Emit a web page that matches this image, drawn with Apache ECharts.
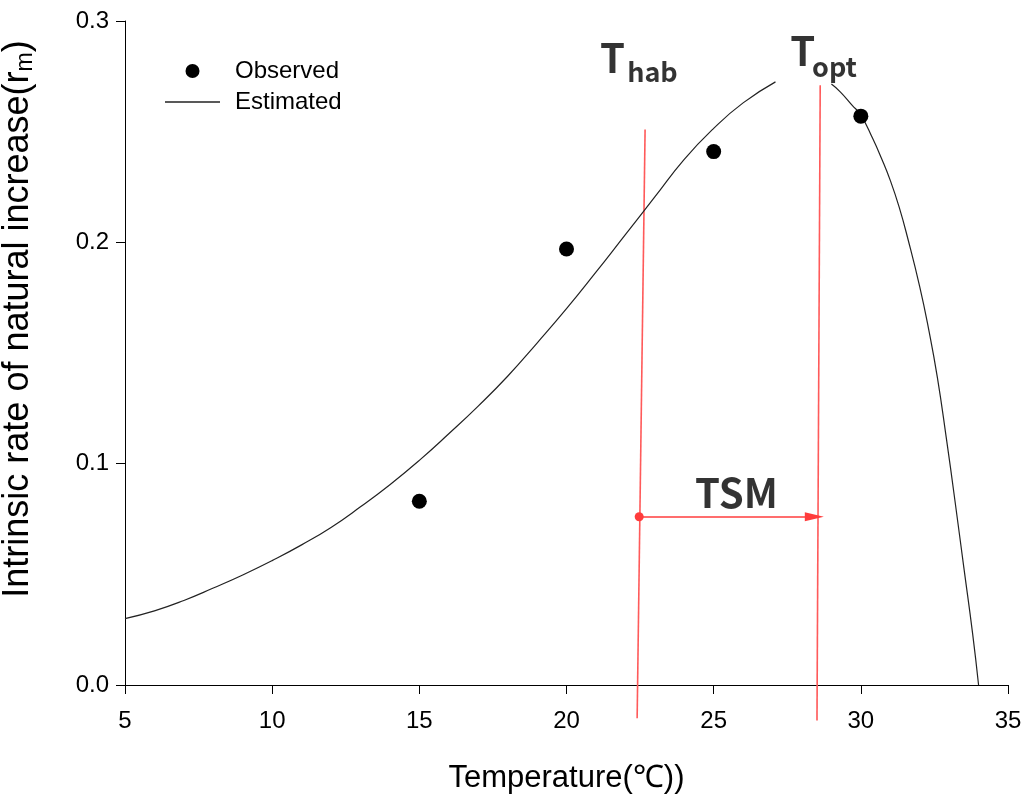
<!DOCTYPE html>
<html>
<head>
<meta charset="utf-8">
<script src="https://cdn.jsdelivr.net/npm/echarts@6/dist/echarts.min.js"></script>
<style>
html, body { margin: 0; padding: 0; background: #fff; }
#main { width: 1027px; height: 798px; }
</style>
</head>
<body>
<div id="main"></div>
<script>
// observed r_m
var obsTemp = [15, 20, 25, 30];
var obsRate = [0.083, 0.197, 0.241, 0.257];

// estimated curve (gap under the T_opt label)
var fitTemp = [5, 6, 7, 8, 9, 10, 11, 12, 13, 14, 15, 16, 17, 18, 19, 20, 21, 22, 23, 24, 25, 26, 27.1,
    28.0,
    29.0, 29.3, 29.7, 30.0, 30.4, 30.7, 31.0, 31.3, 31.6, 32.0, 32.3, 32.6, 32.9, 33.2, 33.5, 33.8, 34.0];
var fitRate = [0.030, 0.0335, 0.0382, 0.0438, 0.0497, 0.0562, 0.0633, 0.0712, 0.0805, 0.0905, 0.1015, 0.1135, 0.126, 0.1395, 0.1545, 0.170, 0.1865, 0.2035, 0.2205, 0.2375, 0.2515, 0.2630, 0.2725,
    null,
    0.2715, 0.268, 0.262, 0.2575, 0.247, 0.238, 0.228, 0.216, 0.2015, 0.180, 0.161, 0.139, 0.112, 0.083, 0.053, 0.023, 0.000];

// reference lines
var habLine = [[22.67, 0.251], [22.40, -0.015]];
var optLine = [[28.62, 0.271], [28.51, -0.016]];
var tsmStart = 22.47, tsmEnd = 28.42, tsmLevel = 0.076;

// text notes [x, y, text, kind]
var notes = [
    [21.14, 0.2836, 'T', 'big'],
    [22.06, 0.2771, 'hab', 'sub'],
    [27.60, 0.2865, 'T', 'big'],
    [28.34, 0.2794, 'opt', 'sub'],
    [24.37, 0.0870, 'TSM', 'big']
];

var xTicks = { min: 5, max: 35, interval: 5 };
var yTicks = { min: 0, max: 0.3, interval: 0.1 };

var myChart = echarts.init(document.getElementById('main'));

var fitData = fitTemp.map(function (t, i) { return [t, fitRate[i]]; });
var obsData = obsTemp.map(function (t, i) { return [t, obsRate[i]]; });

var axisFont = 'Liberation Sans, Arial, sans-serif';
var noteFont = 'Noto Sans CJK KR, Noto Sans, sans-serif';

option = {
    backgroundColor: '#fff',
    animation: false,
    grid: { left: 125, right: 19, top: 21, bottom: 113, outerBoundsMode: 'none', containLabel: false },
    legend: {
        left: 160,
        top: 54,
        orient: 'vertical',
        itemWidth: 55,
        itemHeight: 14,
        itemGap: 7,
        textStyle: { fontFamily: axisFont, fontSize: 24, lineHeight: 24, color: '#000', padding: [0, 0, 0, 10] },
        data: [
            { name: 'Observed', icon: 'circle', itemStyle: { color: '#000', opacity: 1 } },
            { name: 'Estimated', icon: 'path://M0,0L40,0L40,1L0,1Z', itemStyle: { color: '#222' } }
        ]
    },
    xAxis: {
        type: 'value',
        min: xTicks.min, max: xTicks.max, interval: xTicks.interval,
        name: 'Temperature(℃))',
        nameLocation: 'middle',
        nameGap: 78,
        nameTextStyle: { fontFamily: axisFont, fontSize: 31, color: '#000' },
        axisLine: { onZero: false, lineStyle: { color: '#000', width: 1 } },
        axisTick: { show: true, inside: false, length: 9, lineStyle: { color: '#000' } },
        axisLabel: { fontFamily: axisFont, fontSize: 24, color: '#000', margin: 24 },
        splitLine: { show: false }
    },
    yAxis: {
        type: 'value',
        min: yTicks.min, max: yTicks.max, interval: yTicks.interval,
        name: 'Intrinsic rate of natural increase(r{s|m})',
        nameLocation: 'middle',
        nameGap: 88,
        nameTextStyle: {
            fontFamily: axisFont, fontSize: 36, color: '#000', padding: [0, 0, 0, 68],
            rich: { s: { fontFamily: axisFont, fontSize: 23, color: '#000', padding: [14, 0, 0, 0] } }
        },
        axisLine: { show: true, lineStyle: { color: '#000', width: 1 } },
        axisTick: { show: true, inside: false, length: 9, lineStyle: { color: '#000' } },
        axisLabel: {
            fontFamily: axisFont, fontSize: 24, color: '#000', margin: 16,
            formatter: function (v) { return v.toFixed(1); }
        },
        splitLine: { show: false }
    },
    series: [
        {
            name: 'Estimated',
            type: 'line',
            data: fitData,
            smooth: 0.5,
            symbol: 'none',
            connectNulls: false,
            lineStyle: { color: '#222', width: 1.2 },
            itemStyle: { color: '#222' },
            z: 3
        },
        {
            name: 'Observed',
            type: 'scatter',
            data: obsData,
            symbolSize: 15,
            itemStyle: { color: '#000', opacity: 1 },
            z: 4
        },
        {
            name: 'hab',
            type: 'line',
            data: habLine,
            symbol: 'none',
            clip: false,
            lineStyle: { color: '#ff5a5a', width: 1.6 },
            z: 2
        },
        {
            name: 'opt',
            type: 'line',
            data: optLine,
            symbol: 'none',
            clip: false,
            lineStyle: { color: '#ff5a5a', width: 1.6 },
            z: 2
        },
        {
            name: 'TSM',
            type: 'line',
            data: [],
            markLine: {
                silent: true,
                symbol: ['circle', 'triangle'],
                symbolSize: [9, 19],
                label: { show: false },
                lineStyle: { color: '#ff3c3c', width: 1.6, type: 'solid' },
                itemStyle: { color: '#ff1a1a' },
                data: [[{ coord: [tsmStart, tsmLevel] }, { coord: [tsmEnd, tsmLevel] }]]
            }
        },
        {
            name: 'notes',
            type: 'scatter',
            silent: true,
            symbolSize: 0,
            data: notes.map(function (n) { return { value: [n[0], n[1]], text: n[2], kind: n[3] }; }),
            label: {
                show: true,
                position: 'inside',
                align: 'left',
                verticalAlign: 'middle',
                formatter: function (p) { return '{' + p.data.kind + '|' + p.data.text + '}'; },
                rich: {
                    big: { fontFamily: noteFont, fontWeight: 'bold', fontSize: 40, color: '#000' },
                    sub: { fontFamily: noteFont, fontWeight: 'bold', fontSize: 27, color: '#000' }
                }
            },
            z: 5
        }
    ]
};

myChart.setOption(option);
</script>
</body>
</html>
